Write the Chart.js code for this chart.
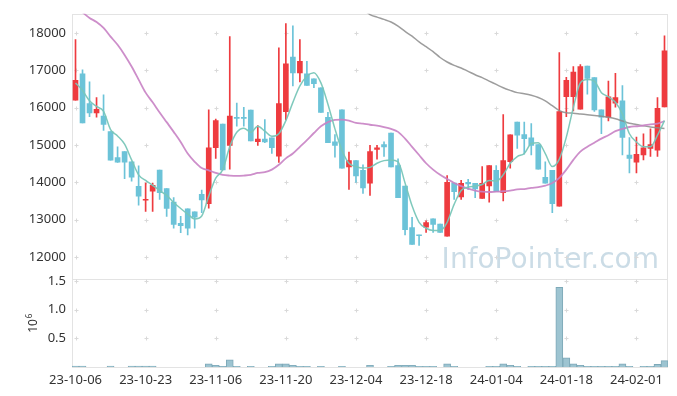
<!DOCTYPE html>
<html>
<head>
<meta charset="utf-8">
<script src="https://cdn.jsdelivr.net/npm/chart.js@4.4.0/dist/chart.umd.min.js"></script>
<style>
  html, body { margin: 0; padding: 0; background: #fff; }
</style>
</head>
<body>
<canvas id="chart" width="677" height="396"></canvas>
<script>
const dates = [
  '23-10-06','23-10-10','23-10-11','23-10-12','23-10-13','23-10-16','23-10-17','23-10-18','23-10-19','23-10-20',
  '23-10-23','23-10-24','23-10-25','23-10-26','23-10-27','23-10-30','23-10-31','23-11-01','23-11-02','23-11-03',
  '23-11-06','23-11-07','23-11-08','23-11-09','23-11-10','23-11-13','23-11-14','23-11-15','23-11-16','23-11-17',
  '23-11-20','23-11-21','23-11-22','23-11-23','23-11-24','23-11-27','23-11-28','23-11-29','23-11-30','23-12-01',
  '23-12-04','23-12-05','23-12-06','23-12-07','23-12-08','23-12-11','23-12-12','23-12-13','23-12-14','23-12-15',
  '23-12-18','23-12-19','23-12-20','23-12-21','23-12-22','23-12-26','23-12-27','23-12-28','24-01-02','24-01-03',
  '24-01-04','24-01-05','24-01-08','24-01-09','24-01-10','24-01-11','24-01-12','24-01-15','24-01-16','24-01-17',
  '24-01-18','24-01-19','24-01-22','24-01-23','24-01-24','24-01-25','24-01-26','24-01-29','24-01-30','24-01-31',
  '24-02-01','24-02-02','24-02-05','24-02-06','24-02-07'
];

const openP = [
  16200,16900,16110,15860,15770,15360,14660,14820,14550,13890,
  13520,13760,14330,13830,13470,12900,13290,13210,13680,13430,
  14930,15560,14990,15720,15720,15930,15090,15160,15190,14700,
  15890,17350,16930,16900,16770,16530,15740,15080,15940,14410,
  14580,14320,13980,14880,15010,15320,14450,13900,12790,12590,
  12800,13020,12880,12560,13980,13610,14000,13970,13570,13900,
  14320,13720,14550,15610,15280,15190,15010,14130,14320,13360,
  16290,16290,15960,17110,16800,15940,15740,16120,16180,14730,
  14540,14730,14910,14860,16020
];
const highP = [
  17820,17010,16690,16270,16340,15360,14950,14820,14550,14440,
  13980,13980,14330,13830,13590,13090,13290,13210,13790,15940,
  15690,15560,17900,16120,16010,15930,15520,15680,15190,17600,
  18250,18190,17820,17240,16770,16530,15870,15280,15940,14810,
  14580,14470,14990,14990,15080,15320,14630,13900,13060,12590,
  12970,13020,12880,14180,13980,14050,14080,13970,14420,14450,
  14450,15810,15270,15610,15610,15570,15010,14550,14320,17470,
  16810,17100,17150,17110,16800,15940,16710,16920,16590,15200,
  15210,15300,15430,16270,17920
];
const lowP = [
  16200,15590,15760,15740,15390,14590,14530,14100,14030,13390,
  13220,13220,13540,13090,12770,12650,12590,12770,13190,13310,
  14640,14330,14350,15500,15500,15110,14990,15060,14770,14530,
  15670,16580,16690,16590,16530,15870,15060,14670,14380,13810,
  14000,13700,13650,14620,14690,14410,13590,12590,12340,12310,
  12660,12660,12660,12560,13540,13540,13810,13590,13570,13470,
  13750,13500,14380,14910,14750,14730,14350,13980,13190,13360,
  15760,15910,15960,16360,15900,15300,15640,16010,14730,14250,
  14250,14600,14690,14690,16020
];
const closeP = [
  16730,15590,15860,15950,15550,14590,14540,14540,14140,13630,
  13540,13920,13720,13300,12870,12840,12770,13070,13530,14920,
  15650,14330,15770,15710,15710,15110,15160,15080,14930,16110,
  17170,16930,17240,16590,16640,15870,15060,14990,14380,14580,
  14170,13850,14820,14920,14950,14410,13590,12730,12340,12570,
  12920,12870,12660,14000,13750,13970,13960,13820,13970,14450,
  13750,14580,15270,15260,15170,14990,14350,13980,13430,15890,
  16730,16950,17100,16780,15940,15740,16290,16270,15200,14640,
  14750,14920,15010,15980,17520
];
const volume = [
  15000,15000,null,null,null,15000,null,null,15000,15000,
  15000,15000,null,null,null,null,null,null,null,57000,
  30000,10000,126000,12000,null,12000,null,null,12000,57000,
  57000,30000,12000,12000,null,12000,null,null,12000,null,
  null,null,30000,null,null,12000,30000,30000,30000,12000,
  12000,12000,null,57000,12000,null,null,null,null,12000,
  12000,57000,30000,12000,null,12000,12000,12000,12000,1390000,
  160000,57000,30000,12000,12000,12000,12000,12000,57000,12000,
  null,12000,12000,45000,110000
];

// moving average lines
const ma5 = [
  16660,16460,16180,16030,15900,15410,15240,15020,14600,14200,
  14050,13920,13780,13650,13460,13300,13150,13020,13100,13630,
  14110,14340,14950,15340,15450,15340,15500,15370,15230,15300,
  15650,16140,16580,16840,16930,16660,16090,15430,14860,14510,
  14420,14380,14400,14510,14580,14600,14550,13980,13370,12930,
  12770,12710,12710,12930,13410,13780,13870,13900,13940,14050,
  14030,14200,14510,14690,14770,15040,15060,14770,14420,14620,
  15210,16000,16660,16750,16710,16400,16290,16140,15830,15300,
  15080,14950,14950,15260,15650
];
const ma20 = [
  18690,18550,18400,18290,18130,17900,17680,17410,17100,16750,
  16400,16140,15870,15610,15350,15080,14770,14550,14380,14320,
  14250,14200,14180,14170,14180,14200,14250,14270,14340,14470,
  14640,14770,14950,15130,15320,15500,15610,15670,15680,15650,
  15590,15570,15540,15520,15480,15430,15350,15170,14950,14730,
  14510,14340,14200,14090,13980,13900,13830,13780,13750,13740,
  13750,13760,13780,13810,13820,13850,13870,13910,13980,14120,
  14340,14600,14820,14950,15060,15170,15260,15370,15430,15480,
  15500,15520,15550,15570,15640
];
const ma60 = [
  null,null,null,null,null,null,null,null,null,null,
  null,null,null,null,null,null,null,null,null,null,
  null,null,null,null,null,null,null,null,null,null,
  null,null,null,null,null,null,null,null,null,null,
  18780,18640,18490,18420,18360,18290,18180,18040,17910,17760,
  17630,17500,17340,17220,17130,17060,16970,16880,16800,16710,
  16620,16530,16460,16400,16370,16330,16270,16180,16050,15920,
  15860,15850,15830,15810,15790,15770,15740,15700,15640,15580,
  15550,15510,15480,15460,15440
];

const priceTicks = [12000, 13000, 14000, 15000, 16000, 17000, 18000];
const volTicks = [500000, 1000000, 1500000];

const upColor = '#ee3b3f';
const downColor = '#6cc3d8';
const candleColors = closeP.map((c, i) => c >= openP[i] ? upColor : downColor);

const decor = {
  id: 'decor',
  beforeDatasetsDraw(chart) {
    const { ctx, chartArea, scales } = chart;
    const x = scales.x, y = scales.y, yv = scales.yVol;
    ctx.save();
    // watermark
    ctx.font = '28px "DejaVu Sans"';
    ctx.fillStyle = '#cbdce6';
    ctx.textAlign = 'right';
    ctx.textBaseline = 'alphabetic';
    ctx.fillText('InfoPointer.com', chartArea.right - 9, y.bottom - 11);
    // panel frames
    ctx.strokeStyle = '#e3e3e3';
    ctx.lineWidth = 1;
    [y, yv].forEach(s => {
      ctx.strokeRect(Math.round(chartArea.left) + 0.5, Math.round(s.top) + 0.5,
        Math.round(chartArea.right - chartArea.left) - 1, Math.round(s.bottom - s.top));
    });
    // small crosses at grid points
    ctx.strokeStyle = '#d9d9d9';
    const rows = priceTicks.map(v => y.getPixelForValue(v)).concat(volTicks.map(v => yv.getPixelForValue(v)));
    for (let i = 0; i < dates.length; i += 10) {
      const px = Math.round(x.getPixelForValue(i)) + 0.5;
      rows.forEach(r => {
        const py = Math.round(r) + 0.5;
        ctx.beginPath();
        ctx.moveTo(px - 2, py); ctx.lineTo(px + 2, py);
        ctx.moveTo(px, py - 2); ctx.lineTo(px, py + 2);
        ctx.stroke();
      });
    }
    ctx.restore();
  },
  afterDraw(chart) {
    // rotated "10^6" unit label of the volume axis
    const { ctx, scales } = chart;
    const yv = scales.yVol;
    const cy = (yv.top + yv.bottom) / 2 + 2;
    ctx.save();
    ctx.translate(37, cy);
    ctx.rotate(-Math.PI / 2);
    ctx.fillStyle = '#333';
    ctx.textBaseline = 'alphabetic';
    ctx.textAlign = 'left';
    ctx.font = '12px "Noto Sans"';
    ctx.fillText('10', -8, 0);
    ctx.font = '8px "Noto Sans"';
    ctx.fillText('6', 6.5, -5.5);
    ctx.restore();
  }
};

const tickFont = { family: 'Noto Sans', size: 13 };

new Chart(document.getElementById('chart'), {
  data: {
    labels: dates,
    datasets: [
      {
        type: 'line', data: ma5, yAxisID: 'y', order: 0,
        borderColor: 'rgba(120,198,184,0.95)', borderWidth: 1.5,
        pointRadius: 0, cubicInterpolationMode: 'monotone'
      },
      {
        type: 'line', data: ma20, yAxisID: 'y', order: 0,
        borderColor: 'rgba(200,130,196,0.9)', borderWidth: 1.8,
        pointRadius: 0, cubicInterpolationMode: 'monotone'
      },
      {
        type: 'line', data: ma60, yAxisID: 'y', order: 0,
        borderColor: 'rgba(140,140,140,0.85)', borderWidth: 1.5,
        pointRadius: 0, cubicInterpolationMode: 'monotone'
      },
      {
        type: 'bar', yAxisID: 'y', order: 2, grouped: false,
        data: lowP.map((l, i) => [l, highP[i]]),
        backgroundColor: candleColors, barThickness: 1, borderWidth: 0
      },
      {
        type: 'bar', yAxisID: 'y', order: 1, grouped: false,
        data: openP.map((o, i) => [o, closeP[i]]),
        backgroundColor: candleColors, barThickness: 5, borderWidth: 0, minBarLength: 1
      },
      {
        type: 'bar', yAxisID: 'yVol', order: 1, grouped: false,
        data: volume,
        backgroundColor: '#9dc4d1', borderColor: '#7ea9b8', borderWidth: 1,
        barPercentage: 1, categoryPercentage: 1
      }
    ]
  },
  options: {
    responsive: false,
    animation: false,
    layout: { padding: { top: 10, right: 9, left: 0, bottom: 0 } },
    plugins: { legend: { display: false }, tooltip: { enabled: false } },
    scales: {
      x: {
        type: 'category',
        offset: true,
        grid: { display: false, drawTicks: false },
        border: { display: false },
        ticks: {
          autoSkip: false, maxRotation: 0, padding: 5,
          color: '#333', font: tickFont,
          callback: (v, i) => i % 10 === 0 ? dates[i] : ''
        },
        afterFit: s => { s.height = 29; }
      },
      yVol: {
        type: 'linear', position: 'left', stack: 'panes', stackWeight: 1,
        min: 0, max: 1540000,
        grid: { display: false, drawTicks: false },
        border: { display: false },
        ticks: {
          color: '#333', font: tickFont, padding: 6,
          callback: v => (v / 1000000).toFixed(1)
        },
        afterBuildTicks: s => { s.ticks = volTicks.map(v => ({ value: v })); },
        afterFit: s => { s.width = 72; }
      },
      y: {
        type: 'linear', position: 'left', stack: 'panes', stackWeight: 3,
        min: 11420, max: 18510,
        grid: { display: false, drawTicks: false },
        border: { display: false },
        ticks: { color: '#333', font: tickFont, padding: 6, callback: v => String(v) },
        afterBuildTicks: s => { s.ticks = priceTicks.map(v => ({ value: v })); },
        afterFit: s => { s.width = 72; }
      }
    }
  },
  plugins: [decor]
});
</script>
</body>
</html>
